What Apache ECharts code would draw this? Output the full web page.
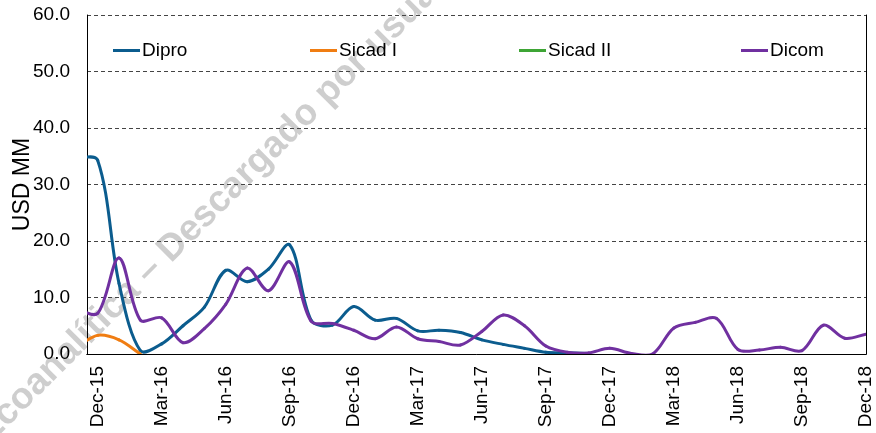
<!DOCTYPE html>
<html>
<head>
    <meta charset="utf-8">
    <title>Dipro / Sicad / Dicom</title>
    <script src="https://cdn.jsdelivr.net/npm/echarts@6/dist/echarts.min.js"></script>
    <style type="text/css">
        html, body {margin:0; padding:0; background-color:#fff;}
    </style>
</head>
<body>
<div id="container" style="width: 876px;height:433px;"></div>

<script type="text/javascript">
    // meses (Nov-15 queda fuera del area, solo sirve para el inicio de la curva)
    var months = ['Nov-15','Dec-15','Jan-16','Feb-16','Mar-16','Apr-16','May-16','Jun-16','Jul-16','Aug-16','Sep-16','Oct-16',
        'Nov-16','Dec-16','Jan-17','Feb-17','Mar-17','Apr-17','May-17','Jun-17','Jul-17','Aug-17','Sep-17','Oct-17',
        'Nov-17','Dec-17','Jan-18','Feb-18','Mar-18','Apr-18','May-18','Jun-18','Jul-18','Aug-18','Sep-18','Oct-18',
        'Nov-18','Dec-18'];

    var dipro = [34.8, 34.3, 12.5, 0.6, 1.8, 5.0, 8.3, 14.8, 12.8, 15.0, 19.3, 6.0,
        5.1, 8.4, 6.0, 6.3, 4.1, 4.2, 3.8, 2.5, 1.7, 1.0, 0.3, 0.2,
        0.1];
    var sicad1 = [1.2, 3.3, 2.5, 0.0];
    var sicad2 = [];
    var dicom = [8.0, 7.2, 17.0, 6.0, 6.4, 2.0, 4.5, 8.8, 15.2, 11.2, 16.3, 5.8,
        5.4, 4.2, 2.7, 4.8, 2.7, 2.2, 1.6, 4.0, 6.9, 5.0, 1.4, 0.3,
        0.2, 1.0, 0.1, 0.0, 4.6, 5.6, 6.3, 0.8, 0.7, 1.2, 0.6, 5.1,
        2.8, 3.5];

    var tickIdx = [1, 4, 7, 10, 13, 16, 19, 22, 25, 28, 31, 34, 37];

    function pts(arr) {
        return arr.map(function (v, i) { return [i, v]; });
    }

    // curva suavizada tipo Excel: cada punto dibuja el tramo hasta el siguiente
    // (tangente repartida segun el largo de los tramos vecinos, en pixeles)
    function curve(values) {
        function p(api, k) {
            if (k < 0 || k >= values.length || values[k] == null) return null;
            return api.coord([k, values[k]]);
        }
        function ctrl(a, b, c) {
            // puntos de control a ambos lados de b
            var d0 = Math.hypot(b[0] - a[0], b[1] - a[1]);
            var d1 = Math.hypot(c[0] - b[0], c[1] - b[1]);
            var s = d0 + d1 || 1;
            var vx = (c[0] - a[0]) / 3, vy = (c[1] - a[1]) / 3;
            return {
                prev: [b[0] - vx * d0 / s, b[1] - vy * d0 / s],
                next: [b[0] + vx * d1 / s, b[1] + vy * d1 / s]
            };
        }
        return function (params, api) {
            var i = params.dataIndex;
            if (i >= values.length - 1 || values[i] == null || values[i + 1] == null) return;
            var p1 = p(api, i), p2 = p(api, i + 1);
            var p0 = p(api, i - 1) || p1, p3 = p(api, i + 2) || p2;
            var c1 = ctrl(p0, p1, p2).next;
            var c2 = ctrl(p1, p2, p3).prev;
            return {
                type: 'bezierCurve',
                shape: {
                    x1: p1[0], y1: p1[1],
                    x2: p2[0], y2: p2[1],
                    cpx1: c1[0], cpy1: c1[1],
                    cpx2: c2[0], cpy2: c2[1]
                },
                style: {stroke: api.visual('color'), lineWidth: 3, fill: null, lineCap: 'round'}
            };
        };
    }

    var font = "'Liberation Sans', Arial, sans-serif";
    var myChart = echarts.init(document.getElementById('container'));

    function legendAt(name, left) {
        return {
            data: [name],
            left: left,
            top: 41,
            padding: 0,
            icon: 'rect',
            itemWidth: 27,
            itemHeight: 3,
            itemGap: 0,
            selectedMode: false,
            textStyle: {color: '#000', fontSize: 19, fontFamily: font, padding: [0, 0, 0, -3]}
        };
    }

    function lineSeries(name, color, values) {
        return {
            name: name,
            type: 'custom',
            clip: true,
            z: 3,
            itemStyle: {color: color},
            encode: {x: 0, y: 1},
            renderItem: curve(values),
            data: pts(values)
        };
    }

    var option = {
        backgroundColor: '#fff',
        animation: false,
        graphic: [{
            type: 'text',
            x: -18,
            y: 438,
            rotation: Math.PI / 4,
            z: 0,
            silent: true,
            style: {
                text: 'Ecoanalítica – Descargado por usuario',
                fill: 'rgba(190,190,190,0.75)',
                font: "bold 37px 'Liberation Sans', Arial, sans-serif",
                textAlign: 'left',
                textVerticalAlign: 'middle'
            }
        }],
        legend: [
            legendAt('Dipro', 113),
            legendAt('Sicad I', 310),
            legendAt('Sicad II', 519),
            legendAt('Dicom', 741)
        ],
        grid: {
            left: 87,
            right: 10,
            top: 15,
            bottom: 79,
            outerBoundsMode: 'none'
        },
        xAxis: [{
            type: 'value',
            min: 0.5,
            max: 37,
            axisLine: {show: true, lineStyle: {color: '#000', type: [4, 3], width: 1}},
            axisTick: {show: false},
            splitLine: {show: false},
            axisLabel: {
                customValues: tickIdx,
                rotate: 90,
                margin: 12,
                color: '#000',
                fontSize: 19,
                fontFamily: font,
                formatter: function (v) { return months[Math.round(v)]; }
            }
        }, {
            type: 'value',
            position: 'top',
            min: 0.5,
            max: 37,
            axisLine: {show: true, lineStyle: {color: '#000', width: 1}},
            axisTick: {show: false},
            axisLabel: {show: false},
            splitLine: {show: false}
        }],
        yAxis: [{
            type: 'value',
            min: 0,
            max: 60,
            interval: 10,
            name: 'USD MM',
            nameLocation: 'middle',
            nameGap: 53,
            nameMoveOverlap: false,
            nameTextStyle: {color: '#000', fontSize: 23, fontFamily: font},
            axisLine: {show: true, lineStyle: {color: '#000', width: 1}},
            axisTick: {show: false},
            axisLabel: {
                color: '#000',
                fontSize: 19,
                fontFamily: font,
                margin: 17,
                formatter: function (v) { return v.toFixed(1); }
            },
            splitLine: {show: true, lineStyle: {color: '#444', type: [4, 3], width: 1}}
        }, {
            type: 'value',
            position: 'right',
            min: 0,
            max: 60,
            axisLine: {show: true, lineStyle: {color: '#000', width: 1}},
            axisTick: {show: false},
            axisLabel: {show: false},
            splitLine: {show: false}
        }],
        series: [
            lineSeries('Dipro', '#0B5C8E', dipro),
            lineSeries('Sicad I', '#F07D12', sicad1),
            lineSeries('Sicad II', '#3EA535', sicad2),
            lineSeries('Dicom', '#7030A0', dicom)
        ]
    };

    myChart.setOption(option);
</script>
</body>
</html>
